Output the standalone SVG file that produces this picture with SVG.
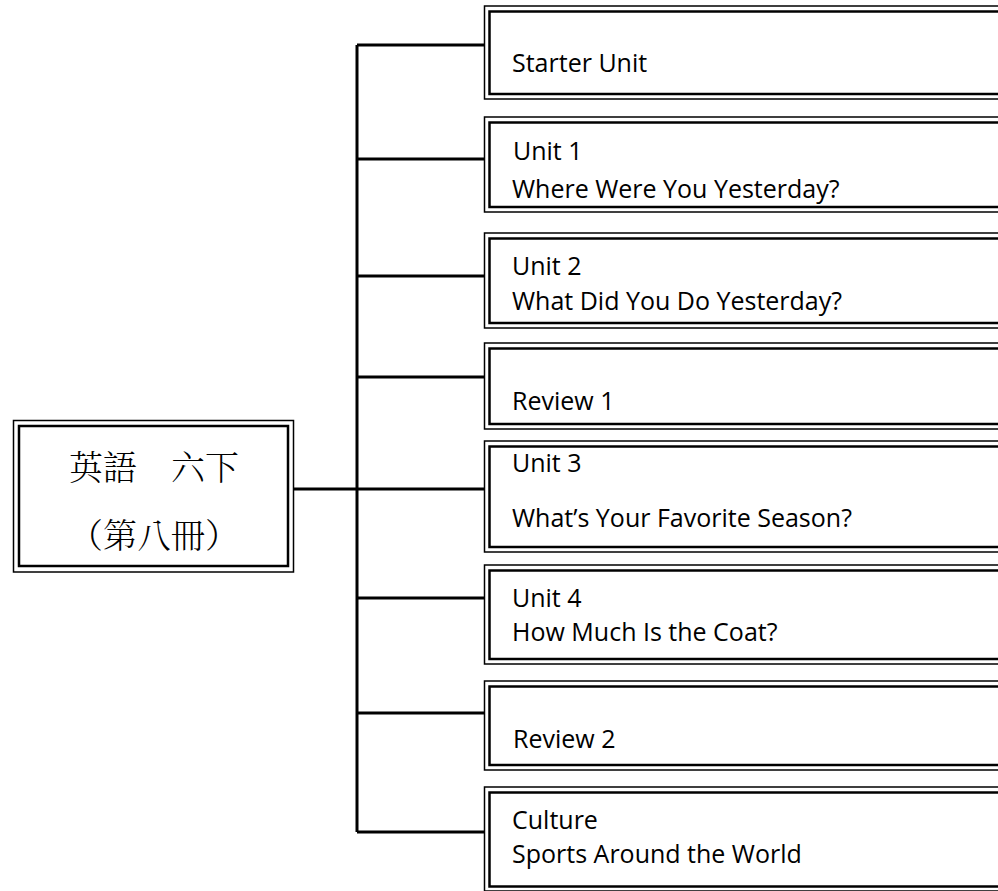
<svg xmlns="http://www.w3.org/2000/svg" width="998" height="891" viewBox="0 0 998 891">
<style>
.o{fill:#fff;stroke:#000;stroke-width:1.5}
.i{fill:none;stroke:#000;stroke-width:2.5}
.t{font-family:"Open Sans","Liberation Sans",sans-serif;font-size:25px;fill:#000}
.r{font-family:"Noto Serif CJK TC","Noto Sans CJK TC",serif;font-size:34px;font-weight:300;fill:#000;text-anchor:middle}
.c{stroke:#000;stroke-width:3;fill:none}
</style>
<rect width="998" height="891" fill="#fff"/>
<g id="connectors">
<path class="c" d="M294 489H357M357 45V832M357 45H484M357 159H484M357 276H484M357 377H484M357 489H484M357 598H484M357 713H484M357 832H484"/>
</g>
<g id="root">
<rect class="o" x="13.5" y="420.5" width="280" height="151.5"/>
<rect class="i" x="19" y="426" width="269" height="140"/>
<text class="r" x="154" y="480">英語　六下</text>
<text class="r" x="154" y="548">（第八冊）</text>
</g>
<g id="starter">
<rect class="o" x="484.5" y="6" width="530" height="93"/>
<rect class="i" x="489.5" y="11.5" width="530" height="82.5"/>
<text class="t" x="512" y="72">Starter Unit</text>
</g>
<g id="unit1">
<rect class="o" x="484.5" y="117" width="530" height="95"/>
<rect class="i" x="489.5" y="122.5" width="530" height="84.5"/>
<text class="t" x="513" y="160">Unit 1</text>
<text class="t" x="512" y="198">Where Were You Yesterday?</text>
</g>
<g id="unit2">
<rect class="o" x="484.5" y="233" width="530" height="95"/>
<rect class="i" x="489.5" y="238.5" width="530" height="84.5"/>
<text class="t" x="512" y="275">Unit 2</text>
<text class="t" x="512" y="310">What Did You Do Yesterday?</text>
</g>
<g id="review1">
<rect class="o" x="484.5" y="343" width="530" height="86"/>
<rect class="i" x="489.5" y="348.5" width="530" height="75.5"/>
<text class="t" x="512" y="410">Review 1</text>
</g>
<g id="unit3">
<rect class="o" x="484.5" y="441" width="530" height="111"/>
<rect class="i" x="489.5" y="446.5" width="530" height="100.5"/>
<text class="t" x="512" y="472">Unit 3</text>
<text class="t" x="512" y="527">What’s Your Favorite Season?</text>
</g>
<g id="unit4">
<rect class="o" x="484.5" y="565" width="530" height="99"/>
<rect class="i" x="489.5" y="570.5" width="530" height="88.5"/>
<text class="t" x="512" y="607">Unit 4</text>
<text class="t" x="512" y="641">How Much Is the Coat?</text>
</g>
<g id="review2">
<rect class="o" x="484.5" y="681" width="530" height="89"/>
<rect class="i" x="489.5" y="686.5" width="530" height="78.5"/>
<text class="t" x="513" y="748">Review 2</text>
</g>
<g id="culture">
<rect class="o" x="484.5" y="787" width="530" height="104"/>
<rect class="i" x="489.5" y="792.5" width="530" height="94"/>
<text class="t" x="512" y="829">Culture</text>
<text class="t" x="512" y="863">Sports Around the World</text>
</g>
</svg>
